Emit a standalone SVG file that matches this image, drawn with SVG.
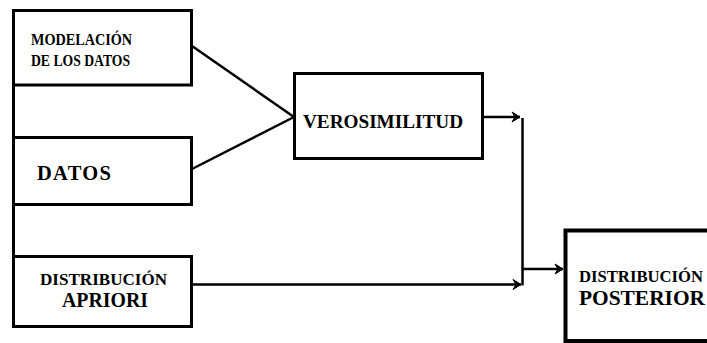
<svg xmlns="http://www.w3.org/2000/svg" width="707" height="343" viewBox="0 0 707 343">
  <style>
    .box { fill: #ffffff; stroke: #000000; stroke-width: 3; }
    .heavy { stroke-width: 4; }
    .wire { fill: none; stroke: #000000; stroke-width: 2.5; }
    .lbl { font-family: 'Liberation Serif', serif; font-weight: 700; fill: #000000; }
  </style>
  <defs>
    <marker id="arrow" markerUnits="userSpaceOnUse" markerWidth="12" markerHeight="12" refX="9" refY="6" orient="auto">
      <path d="M1,1 L9,6 L1,11 L4,6 Z" fill="#000000" stroke="#000000" stroke-width="1"/>
    </marker>
  </defs>

  <rect width="707" height="343" fill="#ffffff"/>

  <!-- connectors -->
  <g id="connectors">
    <line class="wire" x1="13.5" y1="10" x2="13.5" y2="327" style="stroke-width:3"/>
    <line class="wire" x1="192" y1="46" x2="294" y2="117"/>
    <line class="wire" x1="192" y1="169" x2="294" y2="117"/>
    <line class="wire" x1="483" y1="117" x2="520" y2="117" marker-end="url(#arrow)"/>
    <line class="wire" x1="522.5" y1="118" x2="522.5" y2="285.5"/>
    <line class="wire" x1="192" y1="284.5" x2="521" y2="284.5" marker-end="url(#arrow)"/>
    <line class="wire" x1="522.5" y1="269" x2="563" y2="269" marker-end="url(#arrow)"/>
  </g>

  <g id="modelacion">
    <rect class="box" x="13.5" y="10.5" width="178" height="74.5"/>
    <text class="lbl" x="31" y="45" font-size="16" textLength="101" lengthAdjust="spacingAndGlyphs">MODELACIÓN</text>
    <text class="lbl" x="31" y="66" font-size="16" textLength="99" lengthAdjust="spacingAndGlyphs">DE LOS DATOS</text>
  </g>

  <g id="datos">
    <rect class="box" x="13.5" y="137.5" width="178" height="67"/>
    <text class="lbl" x="37" y="180" font-size="20.5" textLength="74" lengthAdjust="spacing">DATOS</text>
  </g>

  <g id="apriori">
    <rect class="box" x="13.5" y="256.5" width="178" height="70"/>
    <text class="lbl" x="40" y="285" font-size="16.5" textLength="127" lengthAdjust="spacingAndGlyphs">DISTRIBUCIÓN</text>
    <text class="lbl" x="62" y="307" font-size="20" textLength="86" lengthAdjust="spacingAndGlyphs">APRIORI</text>
  </g>

  <g id="verosimilitud">
    <rect class="box" x="294.5" y="73.5" width="188" height="85"/>
    <text class="lbl" x="303" y="128" font-size="19" textLength="160" lengthAdjust="spacingAndGlyphs">VEROSIMILITUD</text>
  </g>

  <g id="posterior">
    <rect class="box heavy" x="565.5" y="230.5" width="200" height="110.5"/>
    <text class="lbl" x="579" y="282" font-size="16.5" textLength="124" lengthAdjust="spacingAndGlyphs">DISTRIBUCIÓN</text>
    <text class="lbl" x="579" y="305" font-size="21" textLength="126" lengthAdjust="spacingAndGlyphs">POSTERIOR</text>
  </g>
</svg>
